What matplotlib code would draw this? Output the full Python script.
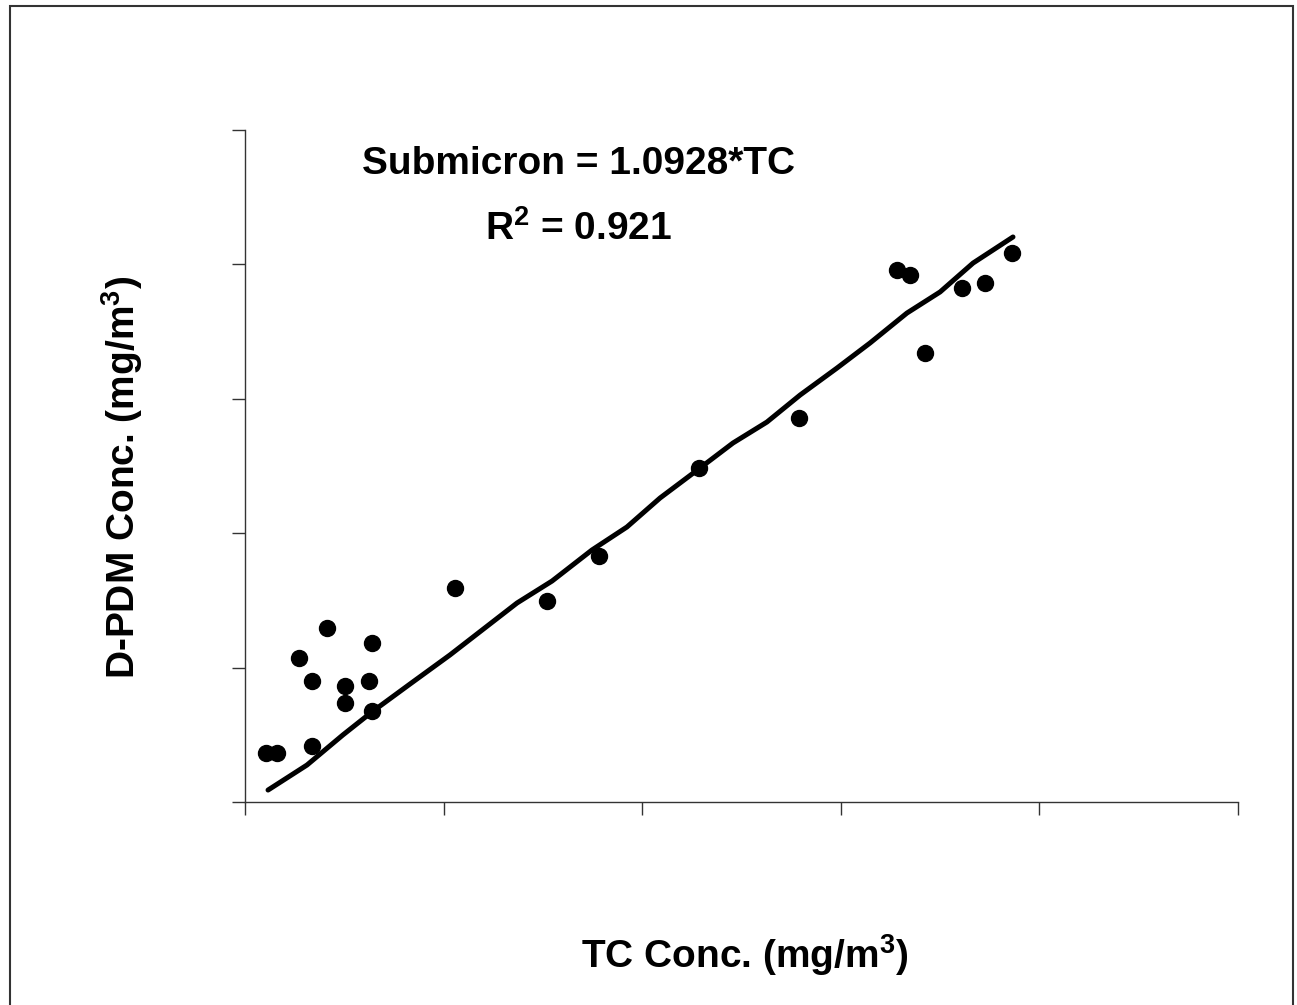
import numpy as np
import matplotlib.pyplot as plt
from matplotlib.patches import Rectangle

plt.rcParams['font.family'] = ['Liberation Sans', 'DejaVu Sans']
plt.rcParams['mathtext.fontset'] = 'custom'
plt.rcParams['mathtext.rm'] = 'Liberation Sans:bold'
plt.rcParams['mathtext.bf'] = 'Liberation Sans:bold'

# TC concentration vs D-PDM concentration (axis units, no tick labels in original)
tc = [0.106, 0.161, 0.337, 0.272, 0.337, 0.413, 0.504, 0.504, 0.624, 0.639, 0.639,
      1.057, 1.521, 1.782, 2.286, 2.790, 3.283, 3.348, 3.424, 3.610, 3.726, 3.862]
dpdm = [0.365, 0.365, 0.417, 1.071, 0.900, 1.295, 0.863, 0.737, 0.900, 1.183, 0.677,
        1.592, 1.496, 1.830, 2.485, 2.857, 3.958, 3.921, 3.341, 3.824, 3.862, 4.085]

# fitted line as drawn
fit_x = [0.116, 0.312, 0.493, 0.639, 0.831, 1.032, 1.370, 1.546, 1.747, 1.923, 2.090,
         2.291, 2.457, 2.628, 2.795, 2.981, 3.147, 3.333, 3.500, 3.666, 3.867]
fit_y = [0.089, 0.275, 0.499, 0.670, 0.878, 1.094, 1.481, 1.644, 1.875, 2.046, 2.262,
         2.485, 2.671, 2.827, 3.028, 3.229, 3.415, 3.638, 3.795, 4.010, 4.204]

fig = plt.figure(figsize=(12.97, 10.05), dpi=100)
fig.patches.append(Rectangle((10/1297, -0.01), 1283/1297, 1 - 6/1005 + 0.01,
                             transform=fig.transFigure, fill=False,
                             edgecolor='#333333', linewidth=1.5))

ax = fig.add_axes([245/1297, 1 - 802/1005, 993/1297, 672/1005])
ax.plot(fit_x, fit_y, color='black', linewidth=3.6, solid_capstyle='round')
ax.plot(tc, dpdm, 'o', color='black', markersize=11.5)

ax.set_xlim(0, 5)
ax.set_ylim(0, 5)
ax.set_xticks(np.arange(6))
ax.set_yticks(np.arange(6))
ax.set_xticklabels([])
ax.set_yticklabels([])
ax.tick_params(direction='out', length=9.5, width=1, color='#333333')
ax.spines['top'].set_visible(False)
ax.spines['right'].set_visible(False)
for s in ['left', 'bottom']:
    ax.spines[s].set_color('#333333')
    ax.spines[s].set_linewidth(1)

fs = 28
ax.text(0.336, 0.949, 'Submicron = 1.0928*TC', transform=ax.transAxes,
        ha='center', va='center', fontsize=fs, fontweight='bold')
ax.text(0.336, 0.852, r'R$^{2}$ = 0.921', transform=ax.transAxes,
        ha='center', va='center', fontsize=fs, fontweight='bold')

fig.text(745/1297, 1 - 955/1005, r'TC Conc. (mg/m$^{3}$)', ha='center', va='center',
         fontsize=fs, fontweight='bold')
fig.text(122/1297, 1 - 477/1005, r'D-PDM Conc. (mg/m$^{3}$)', ha='center', va='center',
         fontsize=fs, fontweight='bold', rotation=90)

plt.savefig('out.png', dpi=100)
